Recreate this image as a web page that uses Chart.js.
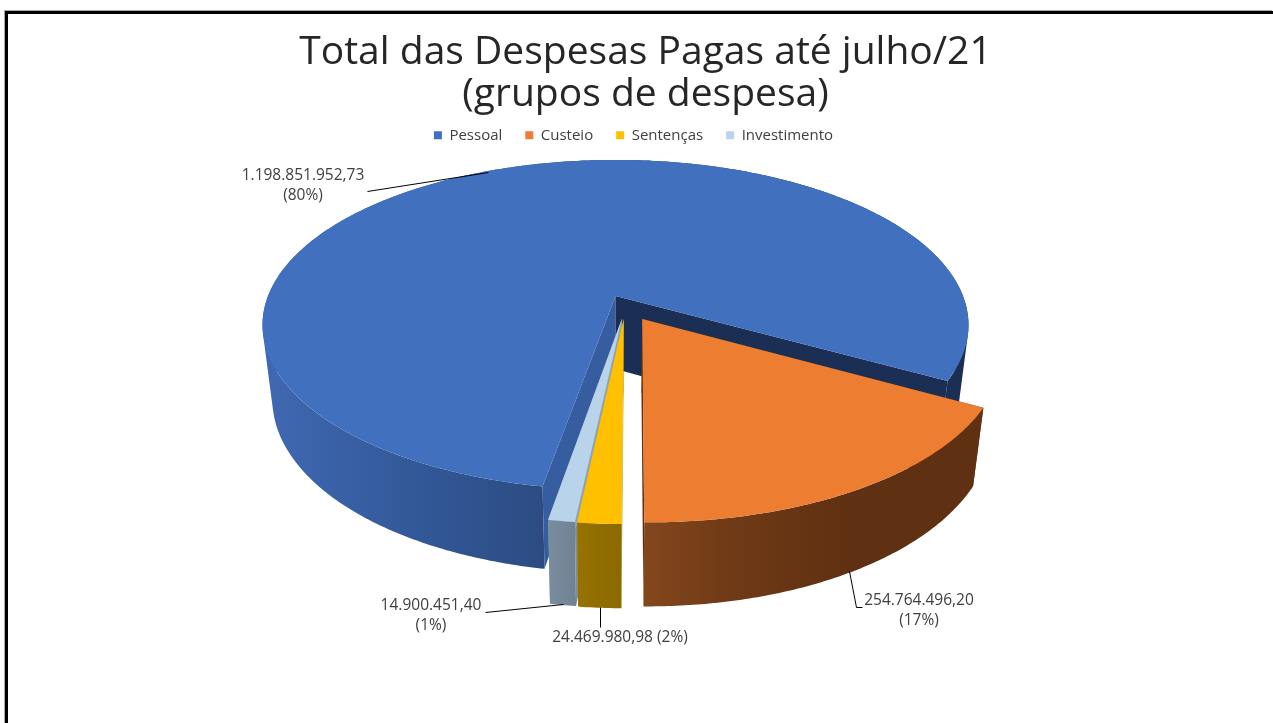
<!DOCTYPE html>
<html><head><meta charset="utf-8">
<style>
html,body{margin:0;padding:0;background:#fff;overflow:hidden}
#wrap{position:absolute;left:0;top:0;width:1273px;height:723px}
#frame{position:absolute;left:5px;top:11px;right:0;bottom:-10px;border-left:3px solid #000;border-top:3px solid #000;box-shadow:-1px -1px 0 #aaa;pointer-events:none}
canvas{position:absolute;left:0;top:0}
</style>
<script src="https://cdn.jsdelivr.net/npm/chart.js@4/dist/chart.umd.js"></script>
</head><body>
<div id="wrap"><canvas id="c" width="1273" height="723"></canvas><div id="frame"></div></div>
<script>
const categories = ['Pessoal','Custeio','Sentenças','Investimento'];
const values = [1198851952.73, 254764496.20, 24469980.98, 14900451.40];
const valueLabels = ['1.198.851.952,73','254.764.496,20','24.469.980,98','14.900.451,40'];
const percentLabels = ['(80%)','(17%)','(2%)','(1%)'];
const topColors = ['#4170BF','#ED7D31','#FFC000','#B9D3EA'];
const titleLines = ['Total das Despesas Pagas até julho/21','(grupos de despesa)'];

const FONT = '"Open Sans", "DejaVu Sans", sans-serif';
/* perspective view of the tilted disc */
const view = {cx:615.5, ay:296, Rx:347.5, Ry:160, k:0.1757, sx:0.972, by:369, sy:1.049};
/* explosion centres and radius factors in disc units, by slice index */
const centres = [[0,0],[0.075,0.14],[0.023,0.14],[0.018,0.138]];
const radii = [1,0.993,1,1];
const rimStops = [
  [[262,'#4069B3'],[400,'#345A9B'],[540,'#2C4C83'],[610,'#1B2F54'],[970,'#1B2F54']],
  [[641,'#85471C'],[730,'#703A17'],[850,'#5F3011'],[990,'#5F3011']],
  [[577,'#977200'],[622,'#8A6900']],
  [[548,'#7A8D9F'],[577,'#6F8192']]
];
const wallColors = [['#365D9F','#1B2F54'],['#7A4119','#5F3011'],['#B58A00','#D1A000'],['#7A8D9F','#8CA4BA']];
const drawOrder = [0,3,2,1];
const leaders = [
  [[367,191],[488,172]],
  [[849,571],[856,607],[862,607]],
  [[600,607],[600,627]],
  [[485,612],[563,604]]
];
const labelPlaces = [
  {x:303,y:176,two:true},
  {x:919,y:601,two:true},
  {x:620,y:638,two:false},
  {x:431,y:606,two:true}
];

function project(u,v){
  const w = 1 - view.k*v;
  return {x:view.cx + view.Rx*u/w, y:view.ay + view.Ry*v/w};
}
function lower(p){
  return {x:view.cx + (p.x-view.cx)*view.sx, y:view.by + (p.y-view.ay)*view.sy};
}
function arcPoints(c,r,a0,a1){
  const n = Math.max(2,Math.ceil(Math.abs(a1-a0)/0.01)), out=[];
  for(let i=0;i<=n;i++){
    const a=a0+(a1-a0)*i/n;
    out.push(project(c[0]+r*Math.cos(a),c[1]+r*Math.sin(a)));
  }
  return out;
}
function fillPoly(ctx,pts,fill){
  ctx.beginPath();
  pts.forEach((p,i)=>i?ctx.lineTo(p.x,p.y):ctx.moveTo(p.x,p.y));
  ctx.closePath();
  ctx.fillStyle=fill;ctx.fill();
}
function area(q){
  let s=0;
  q.forEach((p,i)=>{const n=q[(i+1)%q.length];s+=p.x*n.y-n.x*p.y;});
  return s;
}
function fillRim(ctx,edge,low,fill){
  ctx.beginPath();
  for(let s=0;s<edge.length-1;s++){
    let q=[edge[s],edge[s+1],low[s+1],low[s]];
    if(area(q)<0)q=q.reverse();
    q.forEach((p,i)=>i?ctx.lineTo(p.x,p.y):ctx.moveTo(p.x,p.y));
    ctx.closePath();
  }
  ctx.fillStyle=fill;ctx.fill('nonzero');
}
const pie3d = {
  id:'pie3d',
  afterLayout(chart){
    const t=chart.titleBlock,l=chart.legend;
    t.left+=9;t.right+=9;
    l.left-=3;l.right-=3;
    l.top-=16;l.bottom-=16;
    if(l.legendHitBoxes)l.legendHitBoxes.forEach(b=>{b.top-=16;});
  },
  beforeDatasetsDraw(chart){
    const ctx=chart.ctx, arcs=chart.getDatasetMeta(0).data;
    ctx.save();
    drawOrder.forEach(i=>{
      const arc=arcs[i], c=centres[i], a0=arc.startAngle, a1=arc.endAngle;
      const apex=project(c[0],c[1]), edge=arcPoints(c,radii[i],a0,a1);
      const low=edge.map(lower), apexL=lower(apex);
      fillPoly(ctx,[apex,edge[0],low[0],apexL],wallColors[i][0]);
      fillPoly(ctx,[apex,edge[edge.length-1],low[low.length-1],apexL],wallColors[i][1]);
      const st=rimStops[i], g=ctx.createLinearGradient(st[0][0],0,st[st.length-1][0],0);
      st.forEach(s=>g.addColorStop((s[0]-st[0][0])/(st[st.length-1][0]-st[0][0]),s[1]));
      fillRim(ctx,edge,low,g);
      fillPoly(ctx,[apex].concat(edge),topColors[i]);
    });
    ctx.strokeStyle='#000';ctx.lineWidth=1;
    leaders.forEach(l=>{
      ctx.beginPath();
      l.forEach((p,i)=>i?ctx.lineTo(p[0]+.5,p[1]+.5):ctx.moveTo(p[0]+.5,p[1]+.5));
      ctx.stroke();
    });
    ctx.fillStyle='#404040';ctx.font='15.5px '+FONT;ctx.textAlign='center';ctx.textBaseline='middle';
    labelPlaces.forEach((l,i)=>{
      if(l.two){
        ctx.fillText(valueLabels[i],l.x,l.y);
        ctx.fillText(percentLabels[i],l.x,l.y+20);
      }else{
        ctx.fillText(valueLabels[i]+' '+percentLabels[i],l.x,l.y);
      }
    });
    ctx.restore();
    return false;
  }
};
new Chart(document.getElementById('c'),{
  type:'pie',
  data:{labels:categories,datasets:[{data:values,backgroundColor:topColors,borderWidth:0}]},
  plugins:[pie3d],
  options:{
    responsive:false,animation:false,rotation:190,
    layout:{padding:{top:31}},
    plugins:{
      tooltip:{enabled:false},
      title:{display:true,text:titleLines,color:'#262626',font:{family:FONT,size:39,weight:'normal',lineHeight:1.1},padding:{top:0,bottom:4}},
      legend:{position:'top',align:'center',
        labels:{boxWidth:8,boxHeight:8,padding:23,color:'#404040',font:{family:FONT,size:15}}}
    }
  }
});
</script>
</body></html>
